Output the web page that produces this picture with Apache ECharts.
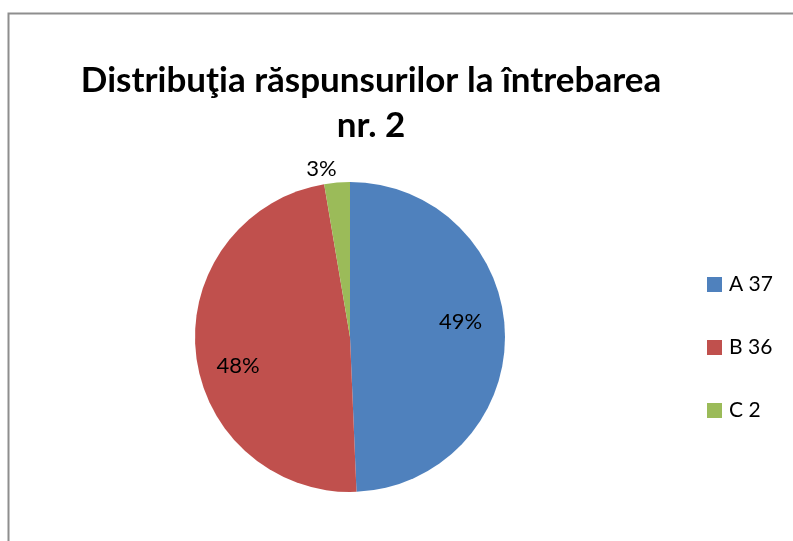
<!DOCTYPE html>
<html>
<head>
<meta charset="utf-8">
<script src="https://cdn.jsdelivr.net/npm/echarts@6/dist/echarts.min.js"></script>
<style>
  html, body { margin: 0; padding: 0; background: #fff; }
  #chart { width: 793px; height: 541px; }
</style>
</head>
<body>
<div id="chart"></div>
<script>
var categories = ['A 37', 'B 36', 'C 2'];
var values = [37, 36, 2];
var colors = ['#4F81BD', '#C0504D', '#9BBB59'];
var labelOffsets = [[-4, -13], [2, 17], [5, -8]];

var chart = echarts.init(document.getElementById('chart'));

var total = values.reduce(function (a, b) { return a + b; }, 0);
var slices = categories.map(function (name, i) {
    return { name: name, value: values[i], itemStyle: { color: colors[i] } };
});
// label carrier: same slices, transparent ring so inside labels sit further out
var labelSlices = categories.map(function (name, i) {
    var d = {
        name: name, value: values[i],
        itemStyle: { color: 'rgba(0,0,0,0)' },
        label: { offset: labelOffsets[i] }
    };
    if (values[i] / total < 0.05) {
        d.label.position = 'outside';
    }
    return d;
});

var option = {
    backgroundColor: '#fff',
    animation: false,
    graphic: [{
        type: 'rect',
        left: 6, top: 11,
        shape: { width: 800, height: 540 },
        style: { fill: 'none', stroke: '#8e8e8e', lineWidth: 2 },
        silent: true
    }],
    title: {
        text: 'Distribuţia răspunsurilor la întrebarea\nnr. 2',
        left: 366, top: 53,
        textAlign: 'center',
        textStyle: {
            fontFamily: 'Lato',
            fontWeight: 'bold',
            fontSize: 35,
            lineHeight: 45,
            color: '#000'
        }
    },
    legend: {
        orient: 'vertical',
        left: 707, top: 274,
        padding: 0,
        icon: 'rect',
        itemWidth: 15, itemHeight: 15,
        itemGap: 42,
        data: categories,
        textStyle: { fontFamily: 'Lato', fontSize: 21, color: '#000', padding: [0, 0, 0, 2] }
    },
    series: [{
        type: 'pie',
        center: [350, 337],
        radius: [0, 155],
        startAngle: 90,
        label: { show: false },
        labelLine: { show: false },
        emphasis: { disabled: true },
        data: slices
    }, {
        type: 'pie',
        center: [350, 337],
        radius: [68, 155],
        startAngle: 90,
        silent: true,
        emphasis: { disabled: true },
        label: {
            show: true,
            position: 'inner',
            fontFamily: 'Lato',
            fontSize: 22,
            color: '#000',
            formatter: function (p) { return Math.round(p.percent) + '%'; }
        },
        labelLine: { show: false, length: 6, length2: 0 },
        data: labelSlices
    }]
};
chart.setOption(option);
</script>
</body>
</html>
